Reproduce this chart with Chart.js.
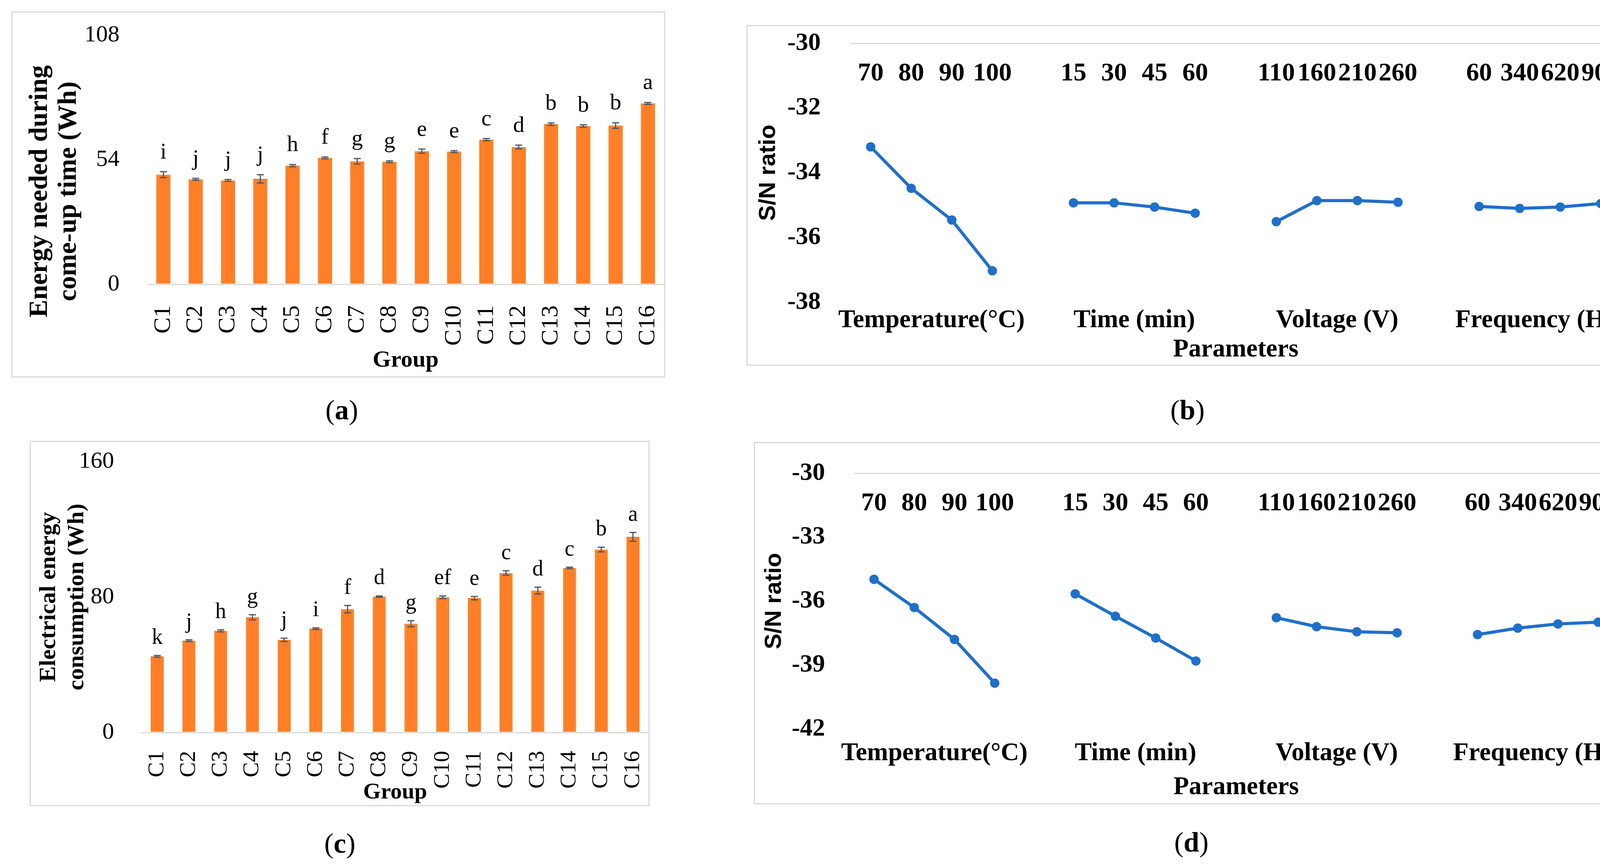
<!DOCTYPE html>
<html>
<head>
<meta charset="utf-8">
<script src="https://cdn.jsdelivr.net/npm/chart.js@4.4.1/dist/chart.umd.min.js"></script>
<style>
  html, body { margin: 0; padding: 0; background: #fff; }
  body { width: 4198px; height: 2218px; position: relative; overflow: hidden; font-family: 'Liberation Serif', serif; }
  canvas, .box, .cap, .ytitle { position: absolute; }
  .box { border: 3px solid #d9d9d9; box-sizing: border-box; }
  .cap { font-size: 72px; transform: translate(-50%, -50%); white-space: nowrap; }
  .ytitle { font-weight: bold; font-size: 68px; line-height: 74px; text-align: center; white-space: nowrap;
            transform: translate(-50%, -50%) rotate(-90deg); }
</style>
</head>
<body>
<canvas id="chartA" width="1674" height="938" style="left:29px;top:29px;width:1674px;height:938px"></canvas>
<canvas id="chartB" width="2256" height="873" style="left:1911px;top:64px;width:2256px;height:873px"></canvas>
<canvas id="chartC" width="1587" height="936" style="left:76px;top:1129px;width:1587px;height:936px"></canvas>
<canvas id="chartD" width="2243" height="928" style="left:1930px;top:1132px;width:2243px;height:928px"></canvas>

<div class="box" style="left:29px;top:29px;width:1674px;height:938px"></div>
<div class="box" style="left:1911px;top:64px;width:2256px;height:873px"></div>
<div class="box" style="left:76px;top:1129px;width:1587px;height:936px"></div>
<div class="box" style="left:1930px;top:1132px;width:2243px;height:928px"></div>

<div class="ytitle" style="left:134px;top:490px">Energy needed during<br>come-up time (Wh)</div>

<div class="cap" style="left:875px;top:1050px">(<b>a</b>)</div>
<div class="cap" style="left:3040px;top:1050px">(<b>b</b>)</div>
<div class="cap" style="left:870px;top:2160px">(<b>c</b>)</div>
<div class="cap" style="left:3050px;top:2157px">(<b>d</b>)</div>

<script>
// bar charts (a) and (c)
const groups = ['C1', 'C2', 'C3', 'C4', 'C5', 'C6', 'C7', 'C8', 'C9', 'C10', 'C11', 'C12', 'C13', 'C14', 'C15', 'C16'];

const comeUpEnergy = [47.5, 45.5, 45.0, 45.7, 51.4, 54.8, 53.3, 53.1, 57.7, 57.5, 62.7, 59.5, 69.4, 68.6, 68.8, 78.4];
const comeUpErr = [1.3, 0.4, 0.4, 1.8, 0.5, 0.4, 1.2, 0.4, 0.9, 0.4, 0.5, 0.8, 0.5, 0.5, 1.2, 0.4];
const comeUpLetters = ['i', 'j', 'j', 'j', 'h', 'f', 'g', 'g', 'e', 'e', 'c', 'd', 'b', 'b', 'b', 'a'];
const comeUpTicks = [0, 54, 108];

const elecEnergy = [45.0, 54.2, 60.0, 68.0, 54.7, 61.3, 72.8, 80.2, 64.2, 79.8, 79.3, 94.2, 83.8, 97.2, 108.0, 115.5];
const elecErr = [0.5, 0.5, 0.6, 1.5, 1.0, 0.5, 2.2, 0.4, 1.8, 0.8, 1.0, 1.3, 2.0, 0.4, 1.4, 2.6];
const elecLetters = ['k', 'j', 'h', 'g', 'j', 'i', 'f', 'd', 'g', 'ef', 'e', 'c', 'd', 'c', 'b', 'a'];
const elecTicks = [0, 80, 160];

// S/N charts (b) and (d): one empty slot between parameters
const levels = ['70', '80', '90', '100', '', '15', '30', '45', '60', '', '110', '160', '210', '260', '', '60', '340', '620', '900'];
const paramNames = ['Temperature(°C)', 'Time (min)', 'Voltage (V)', 'Frequency (Hz)'];
const paramSlots = [[0, 3], [5, 8], [10, 13], [15, 18]];

const snEnergy = [-33.20, -34.48, -35.46, -37.03, null, -34.93, -34.93, -35.06, -35.25, null,
                  -35.51, -34.86, -34.86, -34.91, null, -35.04, -35.10, -35.06, -34.95];
const snEnergyTicks = [-38, -36, -34, -32, -30];

const snElec = [-34.98, -36.30, -37.80, -39.85, null, -35.66, -36.71, -37.73, -38.81, null,
                -36.78, -37.20, -37.44, -37.49, null, -37.57, -37.27, -37.07, -36.99];
const snElecTicks = [-42, -39, -36, -33, -30];

const SERIF = 'Liberation Serif';
const ORANGE = '#ff7f27';
const ORANGE_EDGE = '#f4741a';
const BLUE = '#1f6fca';
const AXIS_GREY = '#d9d9d9';

Chart.defaults.color = '#000';

// fixed axis size, and no extra padding pushed into the layout
function fixSize(prop, size) {
  return s => {
    if (prop) s[prop] = size;
    s.paddingTop = 0; s.paddingBottom = 0; s.paddingLeft = 0; s.paddingRight = 0;
  };
}

// error bars and letters on top of each bar
function barMarks(errors, letters, fontSize, gap) {
  return {
    id: 'barMarks',
    afterDatasetsDraw(chart) {
      const { ctx } = chart;
      const y = chart.scales.y;
      const values = chart.data.datasets[0].data;
      ctx.save();
      chart.getDatasetMeta(0).data.forEach((bar, i) => {
        const top = y.getPixelForValue(values[i] + errors[i]);
        const bottom = y.getPixelForValue(values[i] - errors[i]);
        ctx.strokeStyle = '#4d5660';
        ctx.lineWidth = 3;
        ctx.beginPath();
        ctx.moveTo(bar.x, top); ctx.lineTo(bar.x, bottom);
        ctx.moveTo(bar.x - 9, top); ctx.lineTo(bar.x + 9, top);
        ctx.moveTo(bar.x - 9, bottom); ctx.lineTo(bar.x + 9, bottom);
        ctx.stroke();
        ctx.fillStyle = '#000';
        ctx.font = fontSize + 'px "' + SERIF + '"';
        ctx.textAlign = 'center';
        ctx.textBaseline = 'alphabetic';
        ctx.fillText(letters[i], bar.x, top - gap);
      });
      ctx.restore();
    }
  };
}

function barChart(id, values, errors, letters, ticks, cfg) {
  return new Chart(document.getElementById(id), {
    type: 'bar',
    data: {
      labels: groups,
      datasets: [{
        data: values,
        backgroundColor: ORANGE,
        borderColor: ORANGE_EDGE,
        borderWidth: 2,
        categoryPercentage: 1,
        barPercentage: cfg.barPct
      }]
    },
    options: {
      responsive: false,
      animation: false,
      devicePixelRatio: 1,
      layout: { padding: { top: cfg.top, right: cfg.right, left: 0, bottom: 0 } },
      plugins: { legend: { display: false }, tooltip: { enabled: false } },
      scales: {
        x: {
          grid: { display: false },
          border: { display: false },
          ticks: { minRotation: 90, maxRotation: 90, autoSkip: false, padding: cfg.labelPad,
                   font: { family: SERIF, size: cfg.labelSize } },
          title: { display: true, text: 'Group', font: { family: SERIF, size: cfg.titleSize, weight: 'bold' },
                   padding: { top: 0, bottom: cfg.titlePad } },
          afterFit: fixSize('height', cfg.xHeight)
        },
        y: {
          min: ticks[0],
          max: ticks[ticks.length - 1],
          afterBuildTicks: s => { s.ticks = ticks.map(v => ({ value: v })); },
          grid: { color: c => c.tick && c.tick.value === 0 ? AXIS_GREY : 'rgba(0,0,0,0)', lineWidth: 3, drawTicks: false },
          border: { display: false },
          ticks: { padding: cfg.tickPad, font: { family: SERIF, size: cfg.tickSize } },
          title: cfg.yTitle ? { display: true, text: cfg.yTitle,
                   font: { family: SERIF, size: 60, weight: 'bold' }, padding: { top: cfg.yTitlePad, bottom: 0 } }
                 : { display: false },
          afterFit: fixSize('width', cfg.yWidth)
        }
      }
    },
    plugins: [barMarks(errors, letters, cfg.letterSize, cfg.letterGap)]
  });
}

function snChart(id, values, ticks, cfg) {
  const centers = paramSlots.map(([a, b]) => (a + b) / 2);
  const bold = size => ({ family: SERIF, size: size, weight: 'bold' });
  return new Chart(document.getElementById(id), {
    type: 'line',
    data: {
      labels: levels,
      datasets: [{
        data: values,
        borderColor: BLUE,
        backgroundColor: BLUE,
        borderWidth: 8,
        pointRadius: 12,
        pointBackgroundColor: BLUE,
        pointBorderWidth: 0,
        spanGaps: false,
        tension: 0
      }]
    },
    options: {
      responsive: false,
      animation: false,
      devicePixelRatio: 1,
      layout: { padding: { top: cfg.top, right: cfg.right, left: 0, bottom: 0 } },
      plugins: { legend: { display: false }, tooltip: { enabled: false } },
      scales: {
        x: {
          type: 'category',
          position: { y: ticks[ticks.length - 1] },
          offset: true,
          grid: { display: false, drawTicks: false },
          border: { display: false },
          ticks: { autoSkip: false, maxRotation: 0, padding: cfg.levelPad, font: bold(66) },
          afterFit: fixSize(null, 0)
        },
        x2: {
          type: 'linear',
          position: 'bottom',
          min: -0.5,
          max: levels.length - 0.5,
          afterBuildTicks: s => { s.ticks = centers.map(v => ({ value: v })); },
          grid: { display: false, drawTicks: false },
          border: { display: false },
          ticks: { autoSkip: false, maxRotation: 0, padding: cfg.paramPad, font: bold(65),
                   callback: (v, i) => paramNames[i] },
          title: { display: true, text: 'Parameters', font: bold(65), padding: { top: 0, bottom: cfg.titlePad } },
          afterFit: fixSize('height', cfg.xHeight)
        },
        y: {
          min: ticks[0],
          max: ticks[ticks.length - 1],
          afterBuildTicks: s => { s.ticks = ticks.map(v => ({ value: v })); },
          grid: { color: c => c.tick && c.tick.value === ticks[ticks.length - 1] ? AXIS_GREY : 'rgba(0,0,0,0)',
                  lineWidth: 3, drawTicks: false },
          border: { display: false },
          ticks: { padding: cfg.tickPad, font: bold(64) },
          title: { display: true, text: 'S/N ratio', font: { family: 'Liberation Sans', size: 60, weight: 'bold' },
                   padding: { top: cfg.yTitlePad, bottom: 0 } },
          afterFit: fixSize('width', cfg.yWidth)
        }
      }
    }
  });
}

barChart('chartA', comeUpEnergy, comeUpErr, comeUpLetters, comeUpTicks, {
  barPct: 0.44, top: 61, right: 3, labelPad: 46, labelSize: 62, titleSize: 60, titlePad: 8, xHeight: 239,
  tickPad: 71, tickSize: 60, yWidth: 348, letterSize: 58, letterGap: 34
});

barChart('chartC', elecEnergy, elecErr, elecLetters, elecTicks, {
  barPct: 0.41, top: 53, right: 2, labelPad: 39, labelSize: 58, titleSize: 58, titlePad: 0, xHeight: 189,
  tickPad: 70, tickSize: 60, yWidth: 286, letterSize: 56, letterGap: 30,
  yTitle: ['Electrical energy', 'consumption (Wh)'], yTitlePad: 13
});

snChart('chartB', snEnergy, snEnergyTicks, {
  top: 47, right: 17, levelPad: 38, paramPad: 8, titlePad: 2, xHeight: 163, tickPad: 76, yWidth: 266, yTitlePad: 20
});

snChart('chartD', snElec, snElecTicks, {
  top: 80, right: 30, levelPad: 38, paramPad: 24, titlePad: 4, xHeight: 193, tickPad: 74, yWidth: 256, yTitlePad: 16
});
</script>
</body>
</html>
